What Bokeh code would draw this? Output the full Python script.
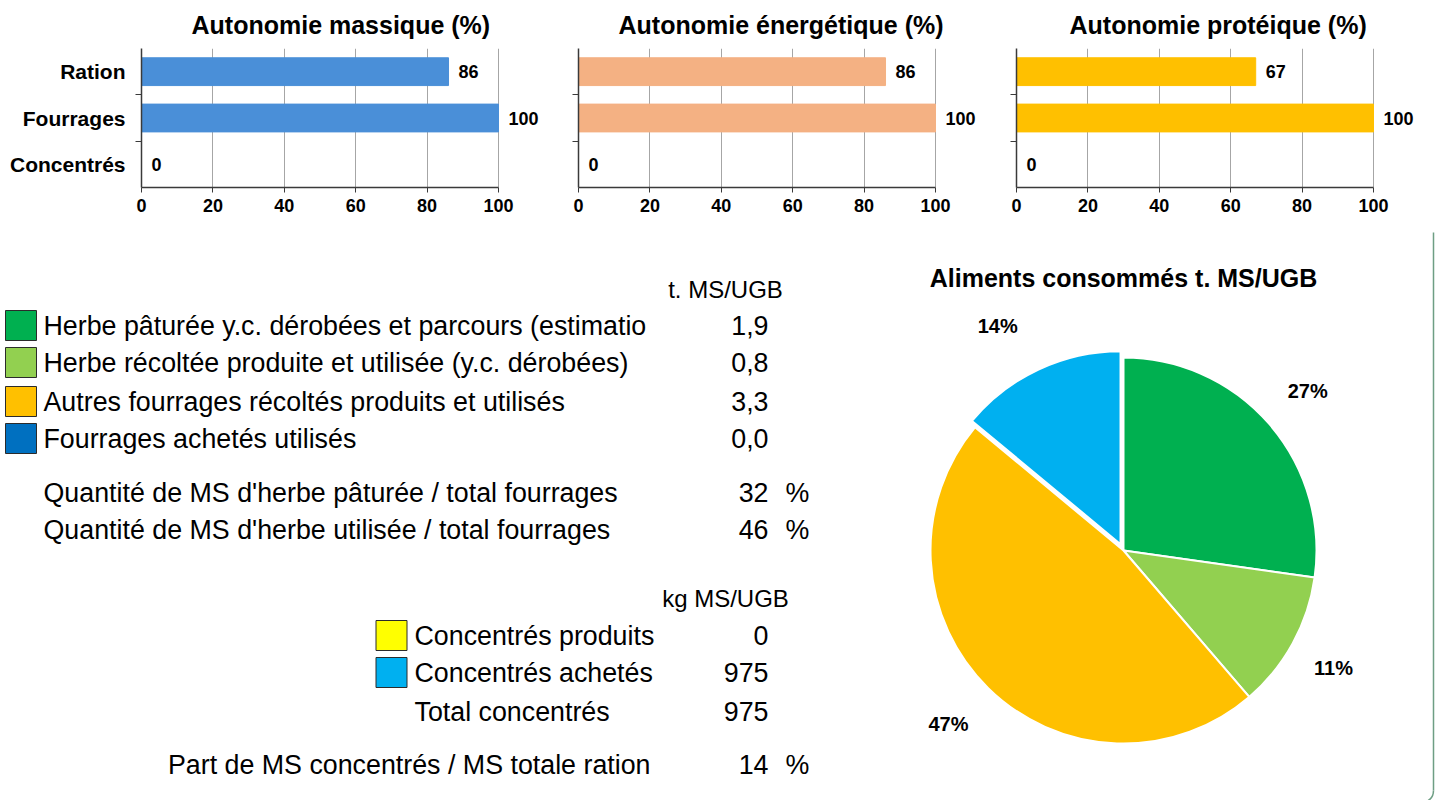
import numpy as np
from bokeh.plotting import figure
from bokeh.models import Range1d, FixedTicker, LabelSet, ColumnDataSource
from bokeh.layouts import column, row
from bokeh.embed import file_html
from bokeh.resources import INLINE
from bokeh.core.properties import value

FONT = "Liberation Sans"

# ---------------- data ----------------
categories = ["Ration", "Fourrages", "Concentrés"]
autonomie_massique = [86, 100, 0]
autonomie_energetique = [86, 100, 0]
autonomie_proteique = [67, 100, 0]
chart_titles = ["Autonomie massique (%)", "Autonomie énergétique (%)", "Autonomie protéique (%)"]
bar_colors = ["#4A8FD8", "#F4B183", "#FFC000"]
x_ticks = [0, 20, 40, 60, 80, 100]

fourrage_header = "t. MS/UGB"
fourrage_labels = [
    "Herbe pâturée y.c. dérobées et parcours (estimatio",
    "Herbe récoltée produite et utilisée (y.c. dérobées)",
    "Autres fourrages récoltés produits et utilisés",
    "Fourrages achetés utilisés",
]
fourrage_values = [1.9, 0.8, 3.3, 0.0]
fourrage_colors = ["#00B050", "#92D050", "#FFC000", "#0070C0"]

part_labels = [
    "Quantité de MS d'herbe pâturée / total fourrages",
    "Quantité de MS d'herbe utilisée / total fourrages",
]
part_values = [32, 46]

concentre_header = "kg MS/UGB"
concentre_labels = ["Concentrés produits", "Concentrés achetés", "Total concentrés"]
concentre_values = [0, 975, 975]
concentre_colors = ["#FFFF00", "#00B0F0"]

part_concentres_label = "Part de MS concentrés / MS totale ration"
part_concentres_value = 14

pie_title = "Aliments consommés t. MS/UGB"
pie_names = ["Herbe pâturée", "Herbe récoltée", "Autres fourrages", "Concentrés"]
pie_values = [1.9, 0.8, 3.3, 0.975]
pie_colors = ["#00B050", "#92D050", "#FFC000", "#00B0F0"]

# layout tweaks for the pie (pixels)
pie_explode = [0, 0, 0, 7]
pie_label_dx = [0, -4, -4, -22]
pie_label_dy = [0, 0, 0, 4]

# ---------------- top bar charts ----------------
FRAME_W = 420          # frame pixels; 0..100 spans 357 px, the rest holds value labels
XMAX = 100 * FRAME_W / 357


def make_bar(title, vals, color, left, title_offset, show_cats):
    pos = list(range(1, len(categories) + 1))
    p = figure(width=left + FRAME_W, height=230,
               x_range=Range1d(0, XMAX), y_range=Range1d(len(categories) + 0.5, 0.5),
               min_border_left=left, min_border_right=0,
               min_border_top=48, min_border_bottom=43,
               toolbar_location=None, output_backend="svg")
    p.title.text = title
    p.title.align = "left"
    p.title.vertical_align = "top"
    p.title.standoff = 16
    p.title.offset = title_offset
    p.title.text_font = FONT
    p.title.text_font_size = "25px"
    p.title.text_font_style = "bold"
    p.title.text_color = "black"
    p.outline_line_color = None

    src = ColumnDataSource(dict(pos=pos, val=vals, txt=[str(v) for v in vals]))
    p.hbar(y="pos", left=0, right="val", height=0.6, source=src,
           fill_color=color, line_color=color)
    p.add_layout(LabelSet(x="val", y="pos", text="txt", source=src, x_offset=10,
                          text_baseline="middle", text_font=value(FONT),
                          text_font_size="18px", text_font_style="bold",
                          text_color="black"))

    xax = p.xaxis[0]
    yax = p.yaxis[0]
    xax.ticker = FixedTicker(ticks=x_ticks)
    xax.bounds = (0, 100)
    p.xgrid.ticker = FixedTicker(ticks=x_ticks)
    p.xgrid.grid_line_color = "#A6A6A6"
    p.xgrid.grid_line_width = 1
    p.ygrid.visible = False

    for ax in (xax, yax):
        ax.axis_line_color = "#3A3A3A"
        ax.axis_line_width = 1.5
        ax.major_tick_line_color = "#3A3A3A"
        ax.minor_tick_line_color = "#3A3A3A"
        ax.major_label_text_font = FONT
        ax.major_label_text_font_style = "bold"
        ax.major_label_text_color = "black"

    xax.major_tick_out = 5
    xax.major_tick_in = 0
    xax.minor_tick_out = 0
    xax.minor_tick_in = 0
    xax.major_label_standoff = 6
    xax.major_label_text_font_size = "18px"

    boundaries = [v + 0.5 for v in pos[:-1]]
    yax.ticker = FixedTicker(ticks=pos if show_cats else [], minor_ticks=boundaries)
    yax.major_tick_out = 0
    yax.major_tick_in = 0
    yax.minor_tick_out = 6
    yax.minor_tick_in = 0
    yax.major_label_standoff = 10
    yax.major_label_text_font_size = "21px"
    if show_cats:
        yax.major_label_overrides = {k: c for k, c in zip(pos, categories)}
    return p


f1 = make_bar(chart_titles[0], autonomie_massique, bar_colors[0], 141, 50, True)
f2 = make_bar(chart_titles[1], autonomie_energetique, bar_colors[1], 17, 40, False)
f3 = make_bar(chart_titles[2], autonomie_proteique, bar_colors[2], 18, 53, False)

# ---------------- bottom panel ----------------
TOP = 230
H = 570
W = 1436
pb = figure(width=W, height=H, x_range=Range1d(0, W), y_range=Range1d(0, H),
            min_border=0, toolbar_location=None, output_backend="svg")
pb.axis.visible = False
pb.grid.visible = False
pb.outline_line_color = None


def Y(py):
    return TOP + H - py


def txt(xs, ys, texts, size="26.8px", align="left", bold=False):
    pb.text(x=xs, y=[Y(v) for v in ys], text=texts, text_font=value(FONT),
            text_font_size=size, text_align=align, text_baseline="middle",
            text_font_style="bold" if bold else "normal", text_color="black")


# fodder table
row_y = [325, 362, 401, 438]
txt([725], [289], [fourrage_header], size="24px", align="center")
pb.rect(x=[20.5] * 4, y=[Y(v) for v in row_y], width=31, height=30,
        fill_color=fourrage_colors, line_color="#2B2B2B", line_width=1)
txt([43] * 4, row_y, fourrage_labels)
txt([768] * 4, row_y, [f"{v:.1f}".replace(".", ",") for v in fourrage_values], align="right")

part_y = [492, 529]
txt([43] * 2, part_y, part_labels)
txt([768] * 2, part_y, [str(v) for v in part_values], align="right")
txt([785] * 2, part_y, ["%"] * 2)

# concentrates table
conc_y = [635, 672, 711]
txt([725], [598], [concentre_header], size="24px", align="center")
pb.rect(x=[391] * 2, y=[Y(v) for v in conc_y[:2]], width=31, height=30,
        fill_color=concentre_colors, line_color="#2B2B2B", line_width=1)
txt([414] * 3, conc_y, concentre_labels)
txt([768] * 3, conc_y, [str(v) for v in concentre_values], align="right")

txt([650], [764], [part_concentres_label], align="right")
txt([768], [764], [str(part_concentres_value)], align="right")
txt([785], [764], ["%"])

# pie
cx, cy, r = 1123, Y(550), 193
vals = np.array(pie_values, dtype=float)
frac = vals / vals.sum()
c1 = np.cumsum(frac)
c0 = c1 - frac
mid = (c0 + c1) / 2
start = np.pi / 2 - 2 * np.pi * c1
end = np.pi / 2 - 2 * np.pi * c0
mid_ang = np.pi / 2 - 2 * np.pi * mid
ex = np.array(pie_explode, dtype=float)
wx = cx + ex * np.cos(mid_ang)
wy = cy + ex * np.sin(mid_ang)
pb.wedge(x=wx, y=wy, radius=r, start_angle=start, end_angle=end,
         fill_color=pie_colors, line_color="white", line_width=2)
lr = 244
pb.text(x=cx + lr * np.cos(mid_ang) + np.array(pie_label_dx),
        y=cy + lr * np.sin(mid_ang) + np.array(pie_label_dy),
        text=[f"{round(f * 100):d}%" for f in frac], text_font=value(FONT),
        text_font_size="20px", text_font_style="bold", text_align="center",
        text_baseline="middle", text_color="black")
txt([1123], [277], [pie_title], size="25px", align="center", bold=True)

# frame border (right edge, rounded corner)
pb.line(x=[1433, 1433], y=[Y(232), Y(790)], line_color="#6E9E84", line_width=1.5)
pb.arc(x=[1421], y=[Y(790)], radius=12, start_angle=-np.pi / 2.6, end_angle=0,
       line_color="#6E9E84", line_width=1.5)

layout = column(row(f1, f2, f3), pb)
open("out.html", "w").write(file_html(layout, INLINE))
